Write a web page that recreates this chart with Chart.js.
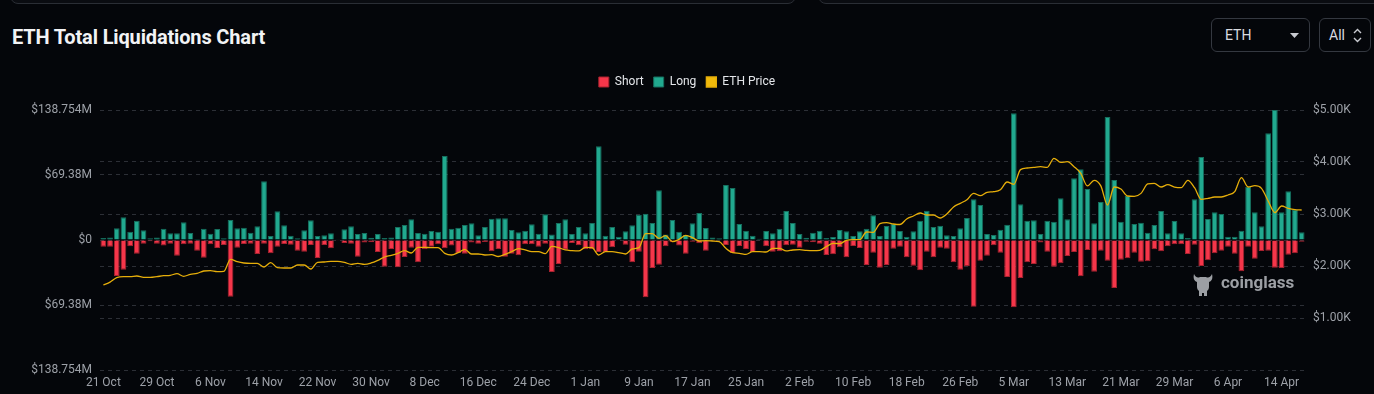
<!DOCTYPE html>
<html>
<head>
<meta charset="utf-8">
<script src="https://cdn.jsdelivr.net/npm/chart.js@4.4.1/dist/chart.umd.min.js"></script>
<style>
  html, body { margin:0; padding:0; background:#04060a; width:1374px; height:394px; overflow:hidden; }
  body { position:relative; font-family: Roboto, "Noto Sans", sans-serif; }
  .panel { position:absolute; top:-40px; height:42px; border:1px solid #2a2e35; border-radius:8px; background:#0a0c11; }
  #title { position:absolute; left:12px; top:25px; font-family:Roboto,sans-serif; font-weight:bold; font-size:20px; color:#f2f3f5; letter-spacing:-0.15px; }
  .sel { position:absolute; top:18px; height:34px; border:1px solid #343840; border-radius:6px; color:#d9dbe0; font-size:14px; box-sizing:border-box; }
  #sel1 { left:1211px; width:99px; }
  #sel2 { left:1319px; width:52px; }
  .sel span { position:absolute; top:8px; }
  #wrap { position:absolute; left:0; top:66px; width:1374px; height:328px; }
  #wm { position:absolute; left:1192px; top:270px; height:28px; color:#9c9fa4; font-weight:bold; font-size:17px; font-family:Roboto,"Noto Sans",sans-serif; }
</style>
</head>
<body>
<div class="panel" style="left:10px;width:784px;"></div>
<div class="panel" style="left:818px;width:570px;"></div>
<div id="title">ETH Total Liquidations Chart</div>
<div class="sel" id="sel1"><span style="left:13px;">ETH</span>
  <svg style="position:absolute;left:78px;top:14px" width="9" height="5"><polygon points="0,0 9,0 4.5,5" fill="#c8cad0"/></svg></div>
<div class="sel" id="sel2"><span style="left:9px;">All</span>
  <svg style="position:absolute;left:33px;top:9px" width="9" height="15"><polyline points="1,5 4.5,1.5 8,5" fill="none" stroke="#c8cad0" stroke-width="1.4"/><polyline points="1,10 4.5,13.5 8,10" fill="none" stroke="#c8cad0" stroke-width="1.4"/></svg></div>
<div id="wrap"><canvas id="c"></canvas></div>
<div id="wm">
  <svg style="position:absolute;left:0;top:2px" width="22" height="26" viewBox="0 0 22 26">
    <path d="M2,2 C4,6 6,6 8,5 L14,5 C16,6 18,6 20,2 C21,6 20,9 17,10 L17,15 C17,17 16,18 15,19 L15,24 L12,24 L12,21 L10,21 L10,24 L7,24 L7,19 C6,18 5,17 5,15 L5,10 C2,9 1,6 2,2 Z" fill="#9c9fa4"/>
  </svg>
  <span style="position:absolute;left:29px;top:2px;">coinglass</span>
</div>
<script>
const categories = [
"21 Oct","22 Oct","23 Oct","24 Oct","25 Oct","26 Oct","27 Oct","28 Oct","29 Oct","30 Oct","31 Oct",
"1 Nov","2 Nov","3 Nov","4 Nov","5 Nov","6 Nov","7 Nov","8 Nov","9 Nov","10 Nov","11 Nov","12 Nov","13 Nov","14 Nov","15 Nov","16 Nov","17 Nov","18 Nov","19 Nov","20 Nov","21 Nov","22 Nov","23 Nov","24 Nov","25 Nov","26 Nov","27 Nov","28 Nov","29 Nov","30 Nov",
"1 Dec","2 Dec","3 Dec","4 Dec","5 Dec","6 Dec","7 Dec","8 Dec","9 Dec","10 Dec","11 Dec","12 Dec","13 Dec","14 Dec","15 Dec","16 Dec","17 Dec","18 Dec","19 Dec","20 Dec","21 Dec","22 Dec","23 Dec","24 Dec","25 Dec","26 Dec","27 Dec","28 Dec","29 Dec","30 Dec","31 Dec",
"1 Jan","2 Jan","3 Jan","4 Jan","5 Jan","6 Jan","7 Jan","8 Jan","9 Jan","10 Jan","11 Jan","12 Jan","13 Jan","14 Jan","15 Jan","16 Jan","17 Jan","18 Jan","19 Jan","20 Jan","21 Jan","22 Jan","23 Jan","24 Jan","25 Jan","26 Jan","27 Jan","28 Jan","29 Jan","30 Jan","31 Jan",
"1 Feb","2 Feb","3 Feb","4 Feb","5 Feb","6 Feb","7 Feb","8 Feb","9 Feb","10 Feb","11 Feb","12 Feb","13 Feb","14 Feb","15 Feb","16 Feb","17 Feb","18 Feb","19 Feb","20 Feb","21 Feb","22 Feb","23 Feb","24 Feb","25 Feb","26 Feb","27 Feb","28 Feb","29 Feb",
"1 Mar","2 Mar","3 Mar","4 Mar","5 Mar","6 Mar","7 Mar","8 Mar","9 Mar","10 Mar","11 Mar","12 Mar","13 Mar","14 Mar","15 Mar","16 Mar","17 Mar","18 Mar","19 Mar","20 Mar","21 Mar","22 Mar","23 Mar","24 Mar","25 Mar","26 Mar","27 Mar","28 Mar","29 Mar","30 Mar","31 Mar",
"1 Apr","2 Apr","3 Apr","4 Apr","5 Apr","6 Apr","7 Apr","8 Apr","9 Apr","10 Apr","11 Apr","12 Apr","13 Apr","14 Apr","15 Apr","16 Apr","17 Apr"
];
// Long liquidations, $M
const longValues = [
2.1,2.8,12.5,24.2,8.9,20.6,10.3,1.8,2.8,12.1,
7.1,7.1,18.9,7.5,1.1,12.1,6.8,11.7,1.8,21.3,
12.5,13.2,7.8,14.6,62.6,4.3,30.6,15.7,4.6,1.8,
10.5,21.0,4.3,5.0,7.1,0.7,11.4,14.6,6.4,7.5,
2.5,6.4,2.1,2.8,13.9,16.0,22.1,7.5,6.8,9.6,
8.9,89.7,12.1,13.2,16.0,17.8,5.0,13.9,22.8,23.1,
23.1,10.7,8.2,10.0,16.7,6.8,27.4,6.0,18.1,22.1,
6.4,13.9,7.1,18.1,100.0,4.6,13.9,3.6,9.3,15.7,
27.0,28.1,18.1,53.0,6.0,21.3,8.9,5.3,17.8,28.8,
12.8,2.8,1.8,58.7,55.5,17.1,10.0,4.6,1.4,9.6,
7.1,12.1,31.0,18.1,6.4,2.5,7.8,10.0,2.1,3.2,
10.7,9.3,4.3,9.3,12.1,26.3,4.3,14.9,17.1,9.6,
3.6,9.3,20.6,31.3,13.9,15.3,5.0,4.3,12.5,23.5,
43.4,37.4,6.4,5.3,11.0,16.4,135.2,38.1,20.6,21.0,
6.4,20.6,19.6,44.5,22.1,65.8,75.4,54.4,17.8,40.6,
131.3,64.0,19.6,47.0,17.1,18.5,7.8,16.0,31.0,7.1,
20.3,7.1,2.1,43.4,88.6,22.4,29.5,27.8,3.6,3.6,
10.0,56.9,29.5,14.6,113.9,138.754,29.5,51.9,32.0,8.2
];
// Short liquidations, $M (drawn below zero)
const shortValues = [
7.1,7.1,38.4,31.7,6.8,14.6,3.9,1.4,3.9,6.0,
3.9,16.7,4.6,3.9,11.4,18.9,4.6,8.5,5.3,60.5,
8.2,4.3,3.9,14.9,3.9,14.2,7.1,4.3,5.0,11.4,
12.5,5.3,19.2,5.3,8.9,0.7,3.2,3.9,17.8,2.8,
2.5,12.8,28.5,9.6,29.2,18.1,8.2,23.8,10.0,7.1,
4.6,8.9,6.0,13.9,14.6,2.8,3.9,2.1,12.1,9.6,
17.8,14.6,16.4,4.6,4.6,7.1,3.9,34.2,25.6,10.3,
3.2,5.7,10.0,10.0,12.8,12.8,7.8,0.4,5.0,23.8,
12.5,61.2,29.9,26.3,6.8,2.5,6.0,14.6,1.8,3.6,
11.4,1.1,0.7,5.3,13.9,6.4,9.6,12.8,0.7,6.8,
12.5,12.1,5.7,5.0,8.2,1.8,2.5,3.9,16.0,15.3,
7.8,18.5,6.4,8.5,26.7,13.5,29.5,26.7,9.3,7.1,
18.5,27.4,32.4,12.5,18.5,8.2,9.3,23.8,31.7,28.1,
71.2,22.1,16.7,5.7,13.5,39.5,71.9,40.6,23.8,25.6,
2.8,12.5,28.5,24.9,17.1,12.8,38.8,10.7,33.8,11.4,
22.1,51.2,21.0,19.6,13.5,23.1,22.8,10.0,12.1,6.8,
4.6,4.6,14.9,5.0,27.8,21.7,14.2,11.4,7.1,14.6,
33.4,7.1,19.9,11.7,11.4,29.5,29.9,15.7,14.2,1.8
];
// ETH price, $
const priceValues = [
1635,1690,1776,1795,1795,1808,1782,1780,1795,1814,
1821,1853,1801,1840,1859,1904,1910,1891,1897,2128,
2084,2058,2051,2051,1981,2064,1968,1962,1962,2019,
2019,1942,2071,2077,2090,2090,2071,2032,2051,2032,
2058,2109,2173,2205,2244,2295,2250,2359,2359,2352,
2352,2244,2212,2257,2320,2231,2231,2212,2218,2183,
2225,2276,2334,2308,2276,2276,2237,2378,2353,2308,
2295,2289,2359,2353,2212,2276,2276,2257,2231,2327,
2353,2622,2622,2532,2583,2468,2513,2590,2545,2481,
2487,2481,2468,2340,2257,2244,2225,2276,2276,2269,
2340,2340,2289,2308,2314,2301,2295,2301,2372,2436,
2430,2494,2507,2507,2654,2647,2814,2833,2808,2798,
2904,2961,3019,2981,2981,2923,3000,3135,3205,3276,
3397,3352,3417,3429,3468,3615,3570,3853,3885,3897,
3910,3897,4071,3993,4006,3910,3782,3539,3647,3540,
3173,3519,3481,3346,3340,3397,3577,3590,3519,3564,
3519,3506,3647,3506,3282,3301,3327,3327,3365,3429,
3699,3519,3545,3494,3250,3026,3154,3109,3083,3077
];
const leftTickValues = [-138.754, -69.38, 0, 69.38, 138.754];
const leftTickLabels = ["$138.754M", "$69.38M", "$0", "$69.38M", "$138.754M"];
const rightTickValues = [0, 1000, 2000, 3000, 4000, 5000];
const rightTickLabels = ["", "$1.00K", "$2.00K", "$3.00K", "$4.00K", "$5.00K"];
const xTickEvery = 8;

const gridColor = '#2c2f36';
const tickColor = '#9da1a8';
const tickFont = { family: 'Roboto', size: 12 };

const legendGap = {
  id: 'legendGap',
  beforeInit(chart) {
    const fit = chart.legend.fit;
    chart.legend.fit = function () { fit.call(this); this.height += 12; };
  }
};

new Chart(document.getElementById('c'), {
  plugins: [legendGap],
  data: {
    labels: categories,
    datasets: [
      { type: 'bar', label: 'Short', data: shortValues.map(v => -v), yAxisID: 'y', stack: 'liq',
        backgroundColor: '#f5364a', borderColor: '#a8222f', borderWidth: 1,
        categoryPercentage: 1, barPercentage: 0.86 },
      { type: 'bar', label: 'Long', data: longValues, yAxisID: 'y', stack: 'liq',
        backgroundColor: '#21a98f', borderColor: '#166f5e', borderWidth: 1,
        categoryPercentage: 1, barPercentage: 0.86 },
      { type: 'line', label: 'ETH Price', data: priceValues, yAxisID: 'y1', order: -1,
        borderColor: '#e6ae0a', backgroundColor: '#f0b90b', borderWidth: 1.3,
        pointRadius: 0, tension: 0.4, cubicInterpolationMode: 'monotone' }
    ]
  },
  options: {
    responsive: true, maintainAspectRatio: false, animation: false,
    layout: { padding: { left: 0, right: 0, top: 0, bottom: 0 } },
    plugins: {
      tooltip: { enabled: false },
      legend: {
        position: 'top', align: 'center',
        labels: {
          boxWidth: 10, boxHeight: 10, padding: 10, color: '#e4e6ea',
          font: { family: 'Roboto', size: 12 },
          sort: (a, b) => a.datasetIndex - b.datasetIndex
        }
      }
    },
    scales: {
      x: {
        stacked: true, offset: true,
        grid: { display: false, drawTicks: false },
        border: { display: false },
        ticks: {
          autoSkip: false, maxRotation: 0, minRotation: 0, padding: 6,
          color: tickColor, font: tickFont,
          callback: (v, i) => (i % xTickEvery === 0 ? categories[i] : '')
        },
        afterFit: s => { s.height = 24; }
      },
      y: {
        position: 'left', stacked: true, min: -138.754, max: 138.754,
        afterBuildTicks: s => { s.ticks = leftTickValues.map(v => ({ value: v })); },
        grid: { color: gridColor, drawTicks: false },
        border: { display: false, dash: [4, 4] },
        ticks: {
          padding: 8, color: tickColor, font: tickFont,
          callback: (v) => { const i = leftTickValues.indexOf(v); return i >= 0 ? leftTickLabels[i] : ''; }
        },
        afterFit: s => { s.width = 100; }
      },
      y1: {
        position: 'right', min: 0, max: 5000,
        afterBuildTicks: s => { s.ticks = rightTickValues.map(v => ({ value: v })); },
        grid: { color: gridColor, drawTicks: false },
        border: { display: false, dash: [4, 4] },
        ticks: {
          padding: 8, color: tickColor, font: tickFont,
          callback: (v) => { const i = rightTickValues.indexOf(v); return i >= 0 ? rightTickLabels[i] : ''; }
        },
        afterFit: s => { s.width = 69; }
      }
    }
  }
});
</script>
</body>
</html>
